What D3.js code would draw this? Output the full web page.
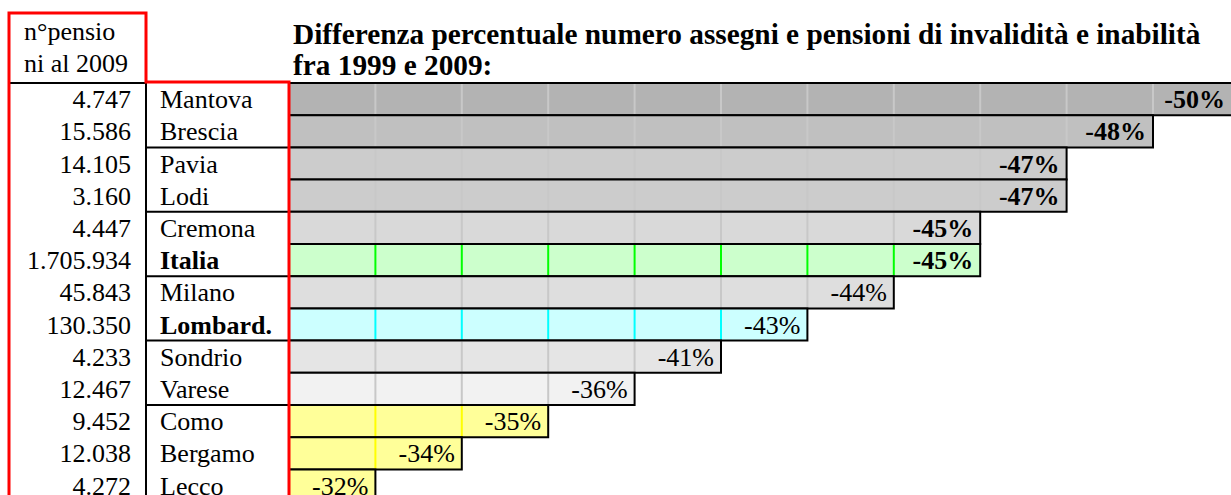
<!DOCTYPE html>
<html lang="it">
<head>
<meta charset="UTF-8">
<title>Differenza percentuale assegni e pensioni</title>
<script src="https://cdn.jsdelivr.net/npm/d3@7"></script>
<style>
  body { margin: 0; background: #fff; overflow: hidden; }
  svg { display: block; font-family: "Liberation Serif", "Times New Roman", serif; }
  text { fill: #000; }
  .bold { font-weight: bold; }
</style>
</head>
<body>
<svg id="chart" width="1231" height="495"></svg>
<script>
// data
var regions = ["Mantova", "Brescia", "Pavia", "Lodi", "Cremona", "Italia", "Milano",
               "Lombard.", "Sondrio", "Varese", "Como", "Bergamo", "Lecco"];
var pensions = [4747, 15586, 14105, 3160, 4447, 1705934, 45843, 130350, 4233, 12467, 9452, 12038, 4272];
var changes = [-50, -48, -47, -47, -45, -45, -44, -43, -41, -36, -35, -34, -32];
var boldNames = ["Italia", "Lombard."];
var titleLines = ["Differenza percentuale numero assegni e pensioni di invalidità e inabilità",
                  "fra 1999 e 2009:"];
var headerLines = ["n°pensio", "ni al 2009"];

// styling per row (spreadsheet cell fills and their inner grid colour)
var FILLS = ["#b3b3b3", "#c0c0c0", "#cccccc", "#cccccc", "#d9d9d9", "#ccffcc", "#dedede",
             "#ccffff", "#e5e5e5", "#f2f2f2", "#ffff99", "#ffff99", "#ffff99"];
var GRIDS = ["#c8c8c8", "#c8c8c8", "#c8c8c8", "#c8c8c8", "#c8c8c8", "#00ff00", "#c8c8c8",
             "#00ffff", "#c8c8c8", "#c8c8c8", "#ffff00", "#ffff00", "#ffff00"];
var lineAfter = [1, 3, 5, 7, 9]; // black separators in the name column

var FONT = 26, TITLE_FONT = 29.3;
var TOP = 83, ROW_H = 32.2;
var X_LEFT = 9, X_MID = 146, X_BARS = 289, COL_W = 86.4;

var svg = d3.select("#chart");
var itFormat = d3.formatLocale({ decimal: ",", thousands: ".", grouping: [3], currency: ["", "€"] }).format(",d");

// bar length is in whole spreadsheet columns: one column per distinct value step
var distinct = Array.from(new Set(changes)).sort(function (a, b) { return b - a; });
var cols = changes.map(function (v) { return distinct.indexOf(v) + 1; });

var x = d3.scaleLinear().domain([0, distinct.length]).range([X_BARS, X_BARS + distinct.length * COL_W]);
var y = d3.scaleBand().domain(d3.range(regions.length))
  .range([TOP, TOP + regions.length * ROW_H]).padding(0);

// title
svg.append("g").selectAll("text").data(titleLines).join("text")
  .attr("class", "bold")
  .attr("x", 293)
  .attr("y", function (d, i) { return 44 + i * 31; })
  .attr("font-size", TITLE_FONT)
  .text(function (d) { return d; });

// header cell text
svg.append("g").selectAll("text").data(headerLines).join("text")
  .attr("x", 24)
  .attr("y", function (d, i) { return 40 + i * 32; })
  .attr("font-size", FONT)
  .text(function (d) { return d; });

// bars
var bars = svg.append("g").selectAll("g").data(changes).join("g");

bars.append("rect")
  .attr("x", X_BARS)
  .attr("y", function (d, i) { return y(i); })
  .attr("width", function (d, i) { return x(cols[i]) - X_BARS; })
  .attr("height", y.bandwidth())
  .attr("fill", function (d, i) { return FILLS[i]; });

// inner column grid lines
bars.each(function (d, i) {
  d3.select(this).selectAll("line").data(d3.range(1, cols[i])).join("line")
    .attr("x1", function (c) { return x(c); })
    .attr("x2", function (c) { return x(c); })
    .attr("y1", y(i) + 1)
    .attr("y2", y(i) + y.bandwidth() - 1)
    .attr("stroke", GRIDS[i])
    .attr("stroke-width", 2);
});

// black cell borders: top, bottom and right of each bar
bars.append("path")
  .attr("fill", "none")
  .attr("stroke", "#000")
  .attr("stroke-width", 2)
  .attr("d", function (d, i) {
    var x1 = x(cols[i]), y0 = y(i), y1 = y(i) + y.bandwidth();
    return "M" + X_BARS + "," + y0 + "H" + x1 + "V" + y1 + "H" + X_BARS;
  });

// value labels (the last column runs past the page edge)
bars.append("text")
  .attr("class", function (d) { return d <= -45 ? "bold" : null; })
  .attr("x", function (d, i) { return Math.min(x(cols[i]) - 7, 1225); })
  .attr("y", function (d, i) { return y(i) + y.bandwidth() - 7; })
  .attr("text-anchor", "end")
  .attr("font-size", FONT)
  .text(function (d) { return d + "%"; });

// pension counts
svg.append("g").selectAll("text").data(pensions).join("text")
  .attr("x", 131)
  .attr("y", function (d, i) { return y(i) + y.bandwidth() - 7; })
  .attr("text-anchor", "end")
  .attr("font-size", FONT)
  .text(function (d) { return itFormat(d); });

// region names
svg.append("g").selectAll("text").data(regions).join("text")
  .attr("class", function (d) { return boldNames.indexOf(d) >= 0 ? "bold" : null; })
  .attr("x", 160)
  .attr("y", function (d, i) { return y(i) + y.bandwidth() - 7; })
  .attr("font-size", FONT)
  .text(function (d) { return d; });

// name column separators and divider
svg.append("g").selectAll("line").data(lineAfter).join("line")
  .attr("x1", X_MID).attr("x2", X_BARS)
  .attr("y1", function (i) { return y(i) + y.bandwidth(); })
  .attr("y2", function (i) { return y(i) + y.bandwidth(); })
  .attr("stroke", "#000").attr("stroke-width", 2);

svg.append("line")
  .attr("x1", X_MID).attr("x2", X_MID).attr("y1", TOP).attr("y2", 495)
  .attr("stroke", "#000").attr("stroke-width", 2);
svg.append("line")
  .attr("x1", X_LEFT).attr("x2", X_MID).attr("y1", TOP).attr("y2", TOP)
  .attr("stroke", "#000").attr("stroke-width", 2);

// red outline around header and the two label columns
svg.append("path")
  .attr("fill", "none")
  .attr("stroke", "#ff0000")
  .attr("stroke-width", 3)
  .attr("d", "M" + X_LEFT + ",500V13H" + X_MID + "V" + (TOP - 1) + "H" + X_BARS + "V500");
</script>
</body>
</html>
